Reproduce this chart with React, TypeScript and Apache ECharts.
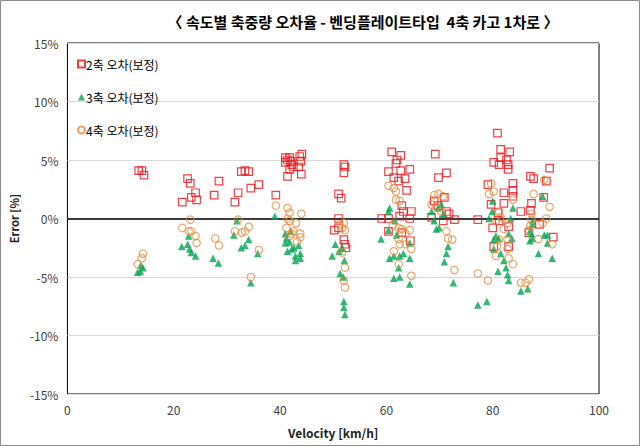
import React, { useEffect, useRef } from "react";
import * as echarts from "echarts";

const titleText = "〈 속도별 축중량 오차율 - 벤딩플레이트타입  4축 카고 1차로 〉";
const seriesNames = ["2축 오차(보정)", "3축 오차(보정)", "4축 오차(보정)"];
const xTitle = "Velocity [km/h]";
const yTitle = "Error [%]";

// [velocity km/h, error %]
const axle2: number[][] = [
  [13.4, 4.1], [14.0, 4.1], [14.4, 3.7],
  [21.6, 1.4], [22.6, 3.4], [23.1, 3.0], [23.3, 1.8], [24.1, 2.2], [24.3, 1.6],
  [27.6, 2.0], [28.5, 3.2], [31.5, 1.4], [32.1, 2.2], [32.7, 4.0], [33.4, 4.1], [34.1, 4.0], [34.5, 2.6], [36.0, 2.9], [39.2, 2.0],
  [41.0, 5.2], [41.4, 5.0], [41.8, 5.2], [42.2, 4.6], [43.7, 5.3], [43.9, 4.9], [41.8, 4.2], [41.4, 3.6], [44.0, 3.8], [41.0, 4.8], [42.5, 4.4], [43.5, 4.4], [42.0, 4.9], [44.1, 5.5],
  [50.2, -1.0], [51.0, 0.0], [51.0, -0.8], [51.0, 2.1], [51.5, 1.75], [52.0, 4.6], [52.0, 3.9], [52.2, 4.4], [52.0, -1.8], [52.2, -2.2], [52.4, -2.5],
  [59.1, 0.0], [60.4, 4.0], [60.4, 0.0], [60.4, -1.1], [61.0, 5.7], [61.4, 3.5], [61.8, 4.7], [62.0, 5.0], [62.3, 3.2], [62.7, 5.4], [62.7, 4.1], [62.9, 1.1], [62.9, -1.2], [63.2, 0.6], [63.5, 3.4], [63.8, 2.4], [64.4, 4.2], [64.4, 0.0], [64.5, -1.9], [64.7, 0.6], [62.5, 0.2],
  [69.2, 5.5], [69.8, 3.5], [71.3, 3.9], [70.9, 1.8], [69.0, 1.5], [69.7, 1.1], [71.3, 0.6], [71.8, 0.4], [68.5, 0.1], [70.7, -0.2], [72.8, -0.1],
  [77.2, -0.1], [79.1, 2.9], [79.7, 1.2], [80.0, -0.8], [80.2, 4.8], [80.2, -2.4], [80.9, 7.3], [81.0, 0.5], [81.2, 4.6], [81.2, -0.2], [81.5, 5.9], [81.5, 5.2], [82.1, 2.2], [82.1, 1.3], [82.6, 5.0], [82.9, 4.6], [83.0, -0.7], [83.0, -2.4], [83.2, 5.7], [83.8, 3.0], [83.8, 2.4], [83.8, 1.9], [85.3, 0.6], [82.9, 4.2],
  [86.8, -1.2], [87.1, 3.6], [87.7, 3.4], [87.3, 1.3], [87.1, 0.7], [88.8, -0.5], [89.6, 1.8], [90.1, 3.2], [90.7, 4.3], [91.4, -1.6],
];

const axle3: number[][] = [
  [13.2, -4.6], [13.7, -4.5], [14.2, -4.2], [13.8, -4.0],
  [21.5, -2.4], [22.6, -2.2], [22.8, -1.5], [23.0, -2.6], [23.3, -2.9], [24.1, -3.2],
  [27.4, -3.4], [28.4, -3.8], [31.3, -1.4], [31.9, -0.2], [32.7, -2.5], [33.4, -2.3], [34.1, -1.8], [35.8, -3.0], [34.5, -5.5], [39.0, 0.2],
  [41.0, -1.3], [41.0, -2.1], [41.2, -1.7], [41.4, -2.8], [41.8, -2.0], [42.0, -1.1], [42.2, -2.6], [42.6, -2.5], [42.9, -3.2], [42.9, -3.6], [43.5, -2.3], [43.8, -3.4], [43.8, -3.0],
  [49.8, -3.2], [50.4, -2.2], [51.1, -2.8], [51.7, -2.5], [52.1, -3.6], [51.3, -4.7], [51.9, -5.0], [52.0, -7.1], [52.0, -7.6], [52.2, -8.2],
  [59.0, -1.75], [60.4, 0.6], [60.6, 0.9], [60.4, -1.0], [61.6, -0.2], [61.9, -1.4], [60.6, -3.4], [61.4, -3.2], [62.5, -3.2], [63.2, -3.0], [64.4, -3.4], [64.4, -2.1], [62.3, -4.2], [61.4, -5.1], [62.5, -5.0], [64.4, -5.6],
  [68.5, 0.6], [69.0, -0.2], [69.4, -0.9], [69.9, -0.8], [69.7, 0.9], [70.3, 1.2], [70.7, 0.4], [71.6, -2.4], [71.3, -3.0], [70.9, -3.7], [72.6, -5.5],
  [77.2, -7.4], [78.9, -7.1],
  [79.3, 0.0], [79.9, 0.6], [80.0, 1.5], [80.6, -1.5], [80.2, -1.8], [81.1, -1.7], [80.2, -2.6], [81.5, -3.0], [82.1, -3.6], [81.0, -4.5], [82.5, -4.2], [82.8, -4.8], [83.0, -5.3], [83.0, -1.3], [83.4, 0.0], [83.8, 0.9], [83.6, -1.7], [85.3, -6.2], [86.6, -6.0],
  [87.3, -1.3], [87.5, -0.2], [87.5, -0.5], [87.0, -1.1], [87.5, -1.7], [87.0, -1.9], [88.6, -3.0], [89.4, 1.9], [89.7, -1.4], [90.3, -1.4], [90.3, -2.1], [91.2, -3.4],
];

const axle4: number[][] = [
  [13.2, -3.9], [14.0, -3.4], [14.2, -3.0],
  [21.6, -0.8], [22.8, -1.1], [23.1, -0.1], [23.3, -1.1], [24.1, -1.5], [24.3, -2.1],
  [27.8, -1.7], [28.5, -2.3], [31.5, -1.1], [32.1, -0.1], [32.8, -1.2], [33.4, -1.1], [34.1, -0.7], [34.5, -5.0], [36.0, -2.7], [39.2, 1.1],
  [41.4, 0.9], [41.8, 0.5], [41.4, 0.0], [41.2, -0.8], [41.8, -0.2], [42.2, -1.3], [42.5, -1.1], [43.0, -0.4], [43.8, -1.3], [43.8, -1.6], [44.0, 0.4], [43.2, -2.0], [41.8, -1.5],
  [51.1, -0.5], [51.7, -0.8], [52.0, -0.4], [52.2, -1.0], [51.7, -2.9], [52.2, -4.2], [52.0, -5.3], [52.2, -5.9],
  [60.4, 2.8], [61.4, 2.6], [61.8, 2.3], [61.8, 1.6], [62.5, 1.5], [61.2, -0.6], [62.3, -0.8], [62.9, -0.9], [63.6, -1.3], [64.4, -1.0], [62.3, -1.75], [62.5, -2.2], [63.6, -2.2], [64.7, -2.6], [61.4, -2.8], [62.3, -3.9], [64.7, -4.9],
  [69.0, 2.0], [69.8, 2.1], [70.7, 1.9], [68.5, 1.2], [69.4, 1.0], [70.3, 0.6], [71.3, -1.1], [71.6, -1.7], [72.4, -1.8], [72.8, -4.4], [77.2, -4.7],
  [79.1, -5.3], [79.7, 3.0], [80.2, 2.3], [79.3, 2.1], [81.2, 0.6], [80.6, -0.2], [81.5, 0.1], [82.8, -0.4], [82.1, -0.9], [81.2, -1.8], [82.8, -1.8], [80.8, -2.4], [82.8, -2.6], [80.6, -3.2], [83.0, -3.4], [83.8, -3.9], [83.8, 1.6], [85.3, -5.5],
  [86.8, -5.2], [86.2, -5.5], [87.7, 2.1], [89.7, 3.3], [90.3, 3.2], [90.7, 1.0], [90.1, 0.0], [89.4, -0.4], [87.3, -0.1], [87.3, 0.4], [87.1, -0.6], [88.6, -1.75], [91.2, -2.2], [86.8, -1.0],
];

const FONT = "'Noto Sans CJK KR', 'Noto Sans', sans-serif";

export default function App() {
  const ref = useRef<HTMLDivElement>(null);
  useEffect(() => {
    document.body.style.margin = "0";
    const chart = echarts.init(ref.current!, null, { renderer: "svg" });
    chart.setOption({
      animation: false,
      backgroundColor: "#fff",
      textStyle: { fontFamily: FONT },
      title: {
        text: titleText,
        left: 358,
        textAlign: "center",
        top: 9,
        textStyle: { fontFamily: FONT, fontSize: 15, fontWeight: "bold", color: "#000" },
      },
      graphic: [
        {
          type: "rect",
          shape: { x: 0.5, y: 0.5, width: 639, height: 445 },
          style: { fill: "none", stroke: "#8c8c8c", lineWidth: 1 },
          silent: true,
        },
      ],
      legend: {
        orient: "vertical",
        left: 72,
        top: 53,
        itemGap: 21,
        itemWidth: 7,
        itemHeight: 7,
        textStyle: { fontFamily: FONT, fontSize: 12, color: "#000", padding: [0, 0, 0, -4] },
        data: seriesNames,
      },
      grid: {
        left: 63,
        right: 41,
        top: 43,
        bottom: 52,
        show: true,
        borderColor: "#000",
        borderWidth: 1,
        backgroundColor: "transparent",
      },
      xAxis: {
        type: "value",
        min: 0,
        max: 100,
        interval: 20,
        name: xTitle,
        nameLocation: "middle",
        nameGap: 32,
        nameTextStyle: { fontFamily: FONT, fontSize: 12, fontWeight: "bold", color: "#222" },
        axisLine: { show: false },
        axisTick: { show: false },
        splitLine: { show: false },
        axisLabel: { fontFamily: FONT, fontSize: 12, color: "#404040", margin: 9 },
      },
      yAxis: {
        type: "value",
        min: -15,
        max: 15,
        interval: 5,
        name: yTitle,
        nameLocation: "middle",
        nameGap: 40,
        nameRotate: 90,
        nameTextStyle: { fontFamily: FONT, fontSize: 11, fontWeight: "bold", color: "#222" },
        axisLine: { show: false },
        axisTick: { show: false },
        splitLine: { show: true, lineStyle: { color: "#d9d9d9", width: 1 } },
        axisLabel: { fontFamily: FONT, fontSize: 12, color: "#404040", margin: 9, formatter: "{value}%" },
      },
      series: [
        {
          name: seriesNames[0],
          type: "scatter",
          symbol: "rect",
          symbolSize: 7.5,
          data: axle2,
          itemStyle: { color: "rgba(255,255,255,0)", borderColor: "#e8141c", borderWidth: 1.2 },
          z: 3,
          markLine: {
            silent: true,
            symbol: "none",
            label: { show: false },
            lineStyle: { color: "#000", width: 1.5, type: "solid" },
            data: [{ yAxis: 0 }],
            z: 1,
          },
        },
        {
          name: seriesNames[1],
          type: "scatter",
          symbol: "triangle",
          symbolSize: 7.5,
          data: axle3,
          itemStyle: { color: "#00a651" },
          z: 4,
        },
        {
          name: seriesNames[2],
          type: "scatter",
          symbol: "circle",
          symbolSize: 7.5,
          data: axle4,
          itemStyle: { color: "rgba(255,255,255,0)", borderColor: "#e8883a", borderWidth: 1.1 },
          z: 5,
        },
      ],
    });
    return () => chart.dispose();
  }, []);
  return <div ref={ref} style={{ position: "absolute", left: 0, top: 0, width: 640, height: 446 }} />;
}
